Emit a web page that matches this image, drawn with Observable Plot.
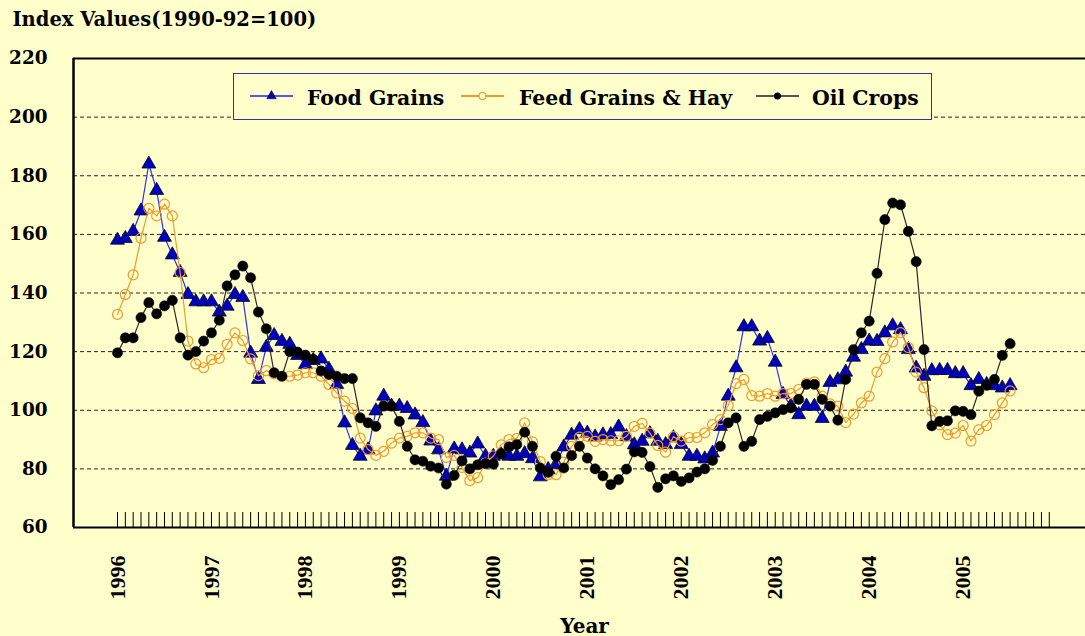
<!DOCTYPE html>
<html>
<head>
<meta charset="utf-8">
<script src="https://cdn.jsdelivr.net/npm/d3@7"></script>
<script src="https://cdn.jsdelivr.net/npm/@observablehq/plot@0.6"></script>
<style>
  html, body { margin: 0; padding: 0; background: #FFFFCC; }
  #wrap { position: relative; width: 1085px; height: 636px; background: #FFFFCC; overflow: hidden; }
  #legend { position: absolute; left: 233px; top: 73px; width: 699px; height: 47px; box-sizing: border-box;
            border: 1.5px solid #3030a0; background: #FFFFCC; }
</style>
</head>
<body>
<div id="wrap"></div>
<script>
// ---------------- data (monthly, Jan 1996 onward) ----------------
const startYear = 1996;
const yearLabels = ["1996","1997","1998","1999","2000","2001","2002","2003","2004","2005"];
const yTicks = [60, 80, 100, 120, 140, 160, 180, 200, 220];
const gridValues = [80, 100, 120, 140, 160, 180, 200];
const monthTickCount = 120;

const foodGrains = [
  158, 158.6, 161, 168, 184, 175, 159, 153, 147, 139.5, 137, 137,
  137, 133.5, 135.5, 139.5, 138.5, 119.5, 110.5, 121.5, 125.5, 123.5, 122.5, 118.7,
  115.6, 117, 117.5, 114, 108.8, 95.7, 88, 84.3, 86.5, 99.8, 104.8, 101.4,
  101.4, 100.6, 98.4, 95.8, 89.5, 86.5, 77.5, 86.8, 86.5, 85.4, 88.5, 84.3,
  84.3, 84.8, 84.3, 84.3, 85.2, 83.5, 77.3, 79.8, 81.5, 87.5, 91.5, 93.4,
  92.2, 90.9, 91.6, 91.7, 94.3, 91, 88.2, 89.4, 92, 89.4, 88.3, 90.6,
  88.3, 84.3, 84.3, 83.4, 85.4, 94.5, 104.8, 114.5, 128.5, 128.5, 123.6, 124.5,
  116.4, 105.4, 101.5, 98.5, 101.4, 101.4, 97.2, 109.5, 110.4, 113, 118.1, 120.7,
  123.6, 123.5, 126.4, 128.8, 127.5, 120.7, 114.4, 111.6, 113.5, 113.6, 113.6, 112.5,
  112.5, 108.4, 110.5, 108.8, 108.4, 107.6, 108.4
];
const feedGrainsHay = [
  132.7, 139.5, 146.2, 158.7, 168.9, 166.3, 170.3, 166.3, 147, 123.6, 115.8, 114.5,
  117.3, 117.7, 122.5, 126.4, 123.8, 117.5, 111.8, 113.5, 112.4, 111.6, 111.6, 112,
  112.8, 112.8, 111.6, 108.8, 105.9, 103.1, 100.6, 90.5, 86.6, 84.6, 86, 88.8,
  90.5, 91.1, 92.3, 92.3, 90.5, 90, 83.9, 84.6, 80.5, 76, 77, 82,
  84.4, 88.2, 90, 90.4, 95.7, 89.2, 82.5, 78, 78, 82.3, 87.7, 90.8,
  91.1, 89.4, 90, 89.6, 89.6, 91.1, 94.5, 95.5, 92.2, 88, 85.7, 91,
  89.5, 90.7, 90.7, 92.3, 95.1, 96.8, 101.6, 109.1, 110.5, 105, 104.8, 105.7,
  104.8, 105.7, 105.7, 107.1, 109.3, 109.7, 104.8, 102.2, 101.4, 95.8, 98.7, 102.5,
  104.8, 113, 117.6, 123.3, 126.5, 121.4, 113, 107.7, 99.8, 95, 91.7, 92.2,
  94.8, 89.5, 93.4, 94.8, 98.5, 102.5, 106.6
];
const oilCrops = [
  119.6, 124.7, 124.7, 131.6, 136.7, 132.9, 135.6, 137.5, 124.7, 118.8, 120, 123.6,
  126.4, 130.7, 142.4, 146.2, 149.2, 145.2, 133.5, 127.8, 112.8, 111.6, 120, 119.8,
  118.8, 117.4, 113.4, 112.2, 111.6, 110.8, 110.8, 97.4, 95.7, 94.5, 101.4, 101.4,
  96.2, 87.7, 83.1, 82.6, 80.9, 80.3, 74.8, 77.8, 82.7, 80, 81.4, 81.8,
  81.6, 85.2, 87.5, 88.3, 92.5, 87.7, 80.3, 78.8, 84.3, 80.3, 84.5, 87.7,
  83.7, 80, 77.6, 74.6, 76.3, 79.9, 85.8, 85.6, 80.8, 73.7, 76.6, 77.6,
  75.7, 76.9, 78.9, 80, 82.9, 87.7, 95.7, 97.4, 87.7, 89.4, 96.8, 97.9,
  99.1, 100.2, 100.8, 103.7, 108.8, 108.8, 103.7, 101.4, 96.6, 110.5, 120.7, 126.4,
  130.4, 146.7, 165, 170.7, 170.1, 161, 150.7, 120.7, 94.7, 96.2, 96.4, 99.8,
  99.6, 98.5, 106.5, 108.5, 110.5, 118.7, 122.7
];

// ---------------- layout ----------------
const W = 1085, H = 636;
const mL = 73, mT = 58, mB = 109;
const firstMonthPx = 117, pxPerMonth = 7.83;
const xDomain = [(mL - firstMonthPx) / pxPerMonth, (W - firstMonthPx) / pxPerMonth];

const toRows = (values) => values.map((v, i) => ({i, v}));
const foodRows = toRows(foodGrains);
const feedRows = toRows(feedGrainsHay);
const oilRows = toRows(oilCrops);
const monthTicks = d3.range(monthTickCount);

const colFood = "#2f2fff", colFoodMark = "#0000c0";
const colFeed = "#ef9a2a";
const colOil = "#2a2a2a";
const sans = "DejaVu Serif";

const chart = Plot.plot({
  width: W, height: H,
  marginLeft: mL, marginRight: 0, marginTop: mT, marginBottom: mB,
  style: {background: "#FFFFCC", fontFamily: sans, color: "#000"},
  x: {domain: xDomain, axis: null, label: null},
  y: {domain: [60, 220], axis: null, label: null},
  marks: [
    Plot.ruleY(gridValues, {stroke: "#222", strokeWidth: 1, strokeDasharray: "4,3"}),
    Plot.ruleX(monthTicks, {insetTop: 454, stroke: "#000", strokeWidth: 1}),
    Plot.ruleY([60, 220], {stroke: "#000", strokeWidth: 2.2}),
    Plot.ruleX([xDomain[0]], {stroke: "#000", strokeWidth: 2.5}),
    Plot.axisY(yTicks, {tickSize: 0, tickPadding: 26, fontSize: 18.4, fontWeight: "bold",
                        fontFamily: sans, fill: "#000", label: null}),
    Plot.text(yearLabels, {x: d => (Number(d) - startYear) * 12, text: d => d,
                           frameAnchor: "bottom", rotate: -90, textAnchor: "end", lineAnchor: "middle",
                           dy: 28, fontSize: 22, fontWeight: "bold", fontFamily: "Liberation Serif", fill: "#000"}),
    Plot.text(["Index Values(1990-92=100)"], {frameAnchor: "top-left", dx: -61, dy: -33,
                           textAnchor: "start", lineAnchor: "bottom", fontSize: 19.5, fontWeight: "bold", fill: "#000"}),
    Plot.text(["Year"], {frameAnchor: "bottom", dx: 5, dy: 105, lineAnchor: "bottom",
                         fontSize: 20, fontWeight: "bold", fill: "#000"}),
    // Food Grains
    Plot.line(foodRows, {x: "i", y: "v", stroke: colFood, strokeWidth: 1.2}),
    Plot.dot(foodRows, {x: "i", y: "v", symbol: "triangle", r: 5.2, fill: colFoodMark, stroke: "#000", strokeWidth: 0.7}),
    // Feed Grains & Hay
    Plot.line(feedRows, {x: "i", y: "v", stroke: colFeed, strokeWidth: 1.2}),
    Plot.dot(feedRows, {x: "i", y: "v", r: 5, fill: "none", stroke: colFeed, strokeWidth: 1.2}),
    // Oil Crops
    Plot.line(oilRows, {x: "i", y: "v", stroke: colOil, strokeWidth: 1.2}),
    Plot.dot(oilRows, {x: "i", y: "v", r: 5.1, fill: "#000", stroke: "#000", strokeWidth: 0.5})
  ]
});

const wrap = document.getElementById("wrap");
wrap.appendChild(chart);

// ---------------- legend ----------------
const legend = document.createElement("div");
legend.id = "legend";
wrap.appendChild(legend);
const items = [
  {name: "Food Grains", line: "#5a5ae8", x0: 16, x1: 59, tx: 73, mark: "tri", fill: colFoodMark},
  {name: "Feed Grains & Hay", line: colFeed, x0: 227, x1: 270, tx: 285, mark: "ring"},
  {name: "Oil Crops", line: "#555", x0: 522, x1: 565, tx: 578, mark: "dot"}
];
const lsvg = d3.select(legend).append("svg").attr("width", 696).attr("height", 44)
  .style("position", "absolute").style("left", "0px").style("top", "0px");
for (const it of items) {
  const cy = 22;
  lsvg.append("line").attr("x1", it.x0).attr("x2", it.x1).attr("y1", cy).attr("y2", cy)
    .attr("stroke", it.line).attr("stroke-width", 2);
  const cx = (it.x0 + it.x1) / 2;
  if (it.mark === "tri") {
    lsvg.append("path").attr("d", d3.symbol(d3.symbolTriangle, 40)()).attr("transform", `translate(${cx},${cy})`)
      .attr("fill", it.fill).attr("stroke", "#000").attr("stroke-width", 0.5);
  } else if (it.mark === "ring") {
    lsvg.append("circle").attr("cx", cx).attr("cy", cy).attr("r", 3.5).attr("fill", "#FFFFCC")
      .attr("stroke", colFeed).attr("stroke-width", 1.2);
  } else {
    lsvg.append("circle").attr("cx", cx).attr("cy", cy).attr("r", 3.5).attr("fill", "#000");
  }
  lsvg.append("text").attr("x", it.tx).attr("y", 31).text(it.name)
    .attr("font-family", sans).attr("font-weight", "bold").attr("font-size", 20.4).attr("fill", "#000");
}
</script>
</body>
</html>
